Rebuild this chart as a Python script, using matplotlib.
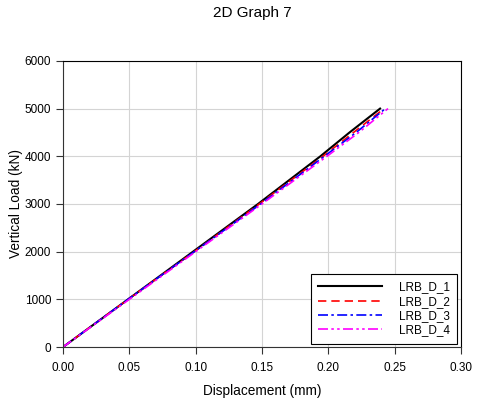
import matplotlib
matplotlib.use("Agg")
from matplotlib import pyplot as plt
from matplotlib.ticker import FormatStrFormatter

plt.rcParams['font.family'] = ['Liberation Sans', 'DejaVu Sans']

load = [0, 1000, 2000, 3000, 4000, 4500, 5000]

disp_d1 = [0, 0.049, 0.098, 0.147, 0.194, 0.216, 0.239]
disp_d2 = [0, 0.049, 0.099, 0.148, 0.196, 0.219, 0.242]
disp_d3 = [0, 0.049, 0.099, 0.149, 0.197, 0.221, 0.243]
disp_d4 = [0, 0.050, 0.100, 0.150, 0.199, 0.223, 0.245]

labels = ['LRB_D_1', 'LRB_D_2', 'LRB_D_3', 'LRB_D_4']

fig = plt.figure(figsize=(5.0, 3.98), dpi=100)
ax = fig.add_axes([0.126, 0.128, 0.796, 0.719])

ax.plot(disp_d1, load, color='black', lw=1.5, label=labels[0])
ax.plot(disp_d2, load, color='red', lw=1.2, linestyle=(0, (5, 3)), label=labels[1])
ax.plot(disp_d3, load, color='blue', lw=1.2, linestyle=(0, (6, 2, 1.5, 2)), label=labels[2])
ax.plot(disp_d4, load, color='magenta', lw=1.2, linestyle=(0, (6, 2, 1.5, 2, 1.5, 2)), label=labels[3])

ax.set_xlim(0, 0.30)
ax.set_ylim(0, 6000)
ax.set_xticks([0, 0.05, 0.10, 0.15, 0.20, 0.25, 0.30])
ax.set_yticks(range(0, 6001, 1000))
ax.xaxis.set_major_formatter(FormatStrFormatter('%.2f'))
ax.tick_params(direction='out', length=5, labelsize=8.5, color='#333333')
ax.tick_params(axis='x', pad=6)
ax.grid(True, color='#d4d4d4', lw=0.8)
ax.set_axisbelow(True)

for side in ('left', 'bottom'):
    ax.spines[side].set_color('#333333')
for side in ('top', 'right'):
    ax.spines[side].set_color('black')

ax.set_xlabel('Displacement (mm)', fontsize=9.8, labelpad=7)
ax.set_ylabel('Vertical Load (kN)', fontsize=9.8, labelpad=1)
fig.suptitle('2D Graph 7', fontsize=11, x=0.505, y=0.985)

leg = ax.legend(loc='lower right', fontsize=8.5, fancybox=False, framealpha=1,
                edgecolor='black', handlelength=5.4, borderaxespad=0.3,
                borderpad=0.6, labelspacing=0.2, handletextpad=1.5)
leg.get_frame().set_linewidth(0.8)

fig.savefig('out.png', dpi=100)
